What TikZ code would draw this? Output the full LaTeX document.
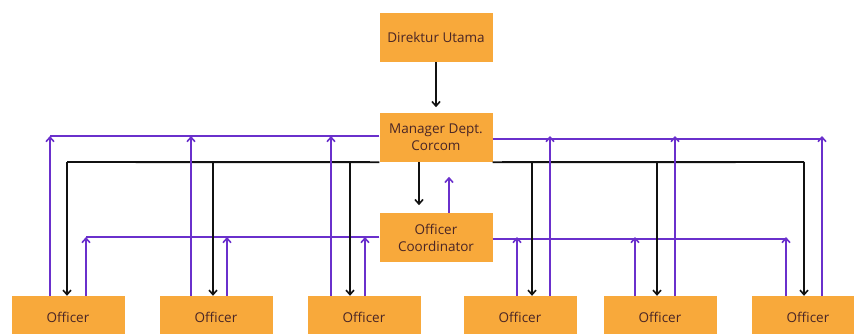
\documentclass[tikz,border=0pt]{standalone}
\usepackage{fontspec}
\setmainfont{Open Sans}
\usetikzlibrary{arrows.meta}
\definecolor{box}{HTML}{F8A93B}
\definecolor{ink}{HTML}{4A2626}
\definecolor{violet}{HTML}{6A30CC}
\definecolor{line}{HTML}{111111}

\tikzset{
  unit/.style={fill=box,text=ink,align=center,font=\fontsize{13.5}{17}\selectfont,
    minimum width=113pt,minimum height=49pt,inner sep=0pt},
  report/.style={violet,line width=1.9pt},
  order/.style={line,line width=1.9pt},
  tip/.style={-{Straight Barb[length=4.5pt,width=8pt,line width=1.6pt]}}
}

\begin{document}
\begin{tikzpicture}[x=1pt,y=-1pt]
  \useasboundingbox (0,0) rectangle (854,333);

  \node[unit] (dir) at (436,37.5) {Direktur Utama};
  \node[unit] (mgr) at (436,137.5) {Manager Dept.\\Corcom};
  \node[unit] (coord) at (436,237.5) {Officer\\Coordinator};

  \node[unit,minimum height=43pt] (o1) at (68,317.5) {Officer};
  \node[unit,minimum height=43pt] (o2) at (216,317.5) {Officer};
  \node[unit,minimum height=43pt] (o3) at (364,317.5) {Officer};
  \node[unit,minimum height=43pt] (o4) at (520,317.5) {Officer};
  \node[unit,minimum height=43pt] (o5) at (660,317.5) {Officer};
  \node[unit,minimum height=43pt] (o6) at (808,317.5) {Officer};

  % top of the chain
  \draw[order,tip] (dir.south) -- ++(0,45);
  \draw[order,tip] (mgr.south -| 419,0) -- ++(0,43);
  \draw[report,tip] (coord.north -| 449,0) -- ++(0,-36);

  % buses out of the manager and the coordinator
  \coordinate (mL) at (50,136);
  \coordinate (mR) at (822,139);
  \coordinate (bL) at (67,162);
  \coordinate (bR) at (804,162);
  \coordinate (cL) at (86,237);
  \coordinate (cR) at (786,239);
  \draw[report] (mgr.west |- mL) -- (mL);
  \draw[report] (mgr.east |- mR) -- (mR);
  \draw[report] (coord.west |- cL) -- (cL);
  \draw[report] (coord.east |- cR) -- (cR);
  \draw[order] (mgr.south west) -- (bL);
  \draw[order] (mgr.south east) -- (bR);

  % each officer: up to manager, down from manager, up to coordinator
  \foreach \o/\pu/\bk/\pc in {o1/50/67/86,o2/191/213/227,o3/331/350/365,
                              o4/550/532/517,o5/675/657/635,o6/822/804/786}{
    \draw[report,tip] (\o.north -| \pu,0) -- (\pu,0 |- mL);
    \draw[order,tip] (\bk,0 |- bL) -- (\o.north -| \bk,0);
    \draw[report,tip] (\o.north -| \pc,0) -- (\pc,0 |- cL);
  }
\end{tikzpicture}
\end{document}
